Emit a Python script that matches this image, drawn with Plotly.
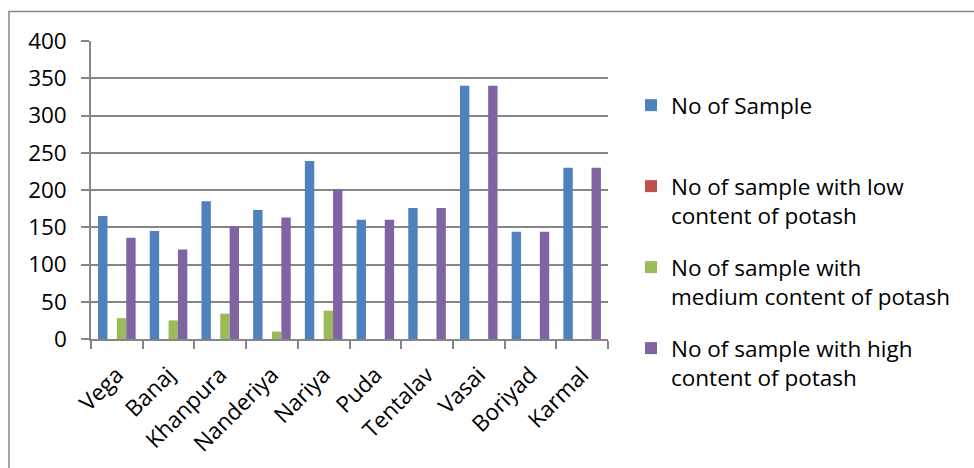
import plotly.graph_objects as go

villages = ["Vega", "Banaj", "Khanpura", "Nanderiya", "Nariya", "Puda",
            "Tentalav", "Vasai", "Boriyad", "Karmal"]
no_of_sample = [165, 145, 185, 173, 239, 160, 176, 340, 144, 230]
low_potash = [0, 0, 0, 0, 0, 0, 0, 0, 0, 0]
medium_potash = [28, 25, 34, 10, 38, 0, 0, 0, 0, 0]
high_potash = [136, 120, 151, 163, 201, 160, 176, 340, 144, 230]

series_names = [
    "No of Sample<br> ",
    "No of sample with low<br>content of potash",
    "No of sample with<br>medium content of potash",
    "No of sample with high<br>content of potash",
]
series_values = [no_of_sample, low_potash, medium_potash, high_potash]
colors = ["#4F81BD", "#C0504D", "#9BBB59", "#8064A2"]

FONT = "Open Sans"
FS = 22.5

fig = go.Figure()
for i, (name, vals, col) in enumerate(zip(series_names, series_values, colors)):
    fig.add_trace(go.Bar(
        x=villages, y=vals, name=name, marker_color=col,
        marker_line_width=0, legendgroup=f"g{i}",
    ))

W, H = 974, 468
L, R, T, B = 91, 366, 41, 129
pw, ph = W - L - R, H - T - B

def px_x(p):
    return (p - L) / pw

def px_y(p):
    return (H - B - p) / ph

fig.update_layout(
    width=W, height=H,
    margin=dict(l=L, r=R, t=T, b=B, pad=0, autoexpand=False),
    paper_bgcolor="white", plot_bgcolor="white",
    barmode="group", bargap=0.273, bargroupgap=0,
    font=dict(family=FONT, size=FS, color="black"),
    legend=dict(
        x=px_x(631), y=px_y(84), xanchor="left", yanchor="top",
        font=dict(family=FONT, size=FS, color="black"),
        valign="top", tracegroupgap=19.5, bgcolor="rgba(0,0,0,0)",
        maxheight=600,
    ),
    showlegend=True,
    xaxis=dict(
        showgrid=False, showline=True, linecolor="#868686", linewidth=1.5,
        ticks="outside", tickson="boundaries", ticklen=8, tickcolor="#868686",
        tickwidth=1.5, tickangle=-45, tickfont=dict(family=FONT, size=FS),
        ticklabelstandoff=12, automargin=False,
    ),
    yaxis=dict(
        range=[0, 400], dtick=50, showgrid=True, gridcolor="#868686",
        gridwidth=1.5, showline=True, linecolor="#868686", linewidth=1.5,
        ticks="outside", ticklen=8, tickcolor="#868686", tickwidth=1.5,
        tickfont=dict(family=FONT, size=FS), zeroline=False,
        ticklabelstandoff=10, automargin=False,
    ),
    shapes=[dict(
        type="rect", xref="paper", yref="paper",
        x0=px_x(9), x1=px_x(1000), y0=px_y(500), y1=px_y(11.5),
        line=dict(color="#868686", width=1.5), fillcolor="rgba(0,0,0,0)",
        layer="below",
    )],
)

fig.write_html("out.html")
